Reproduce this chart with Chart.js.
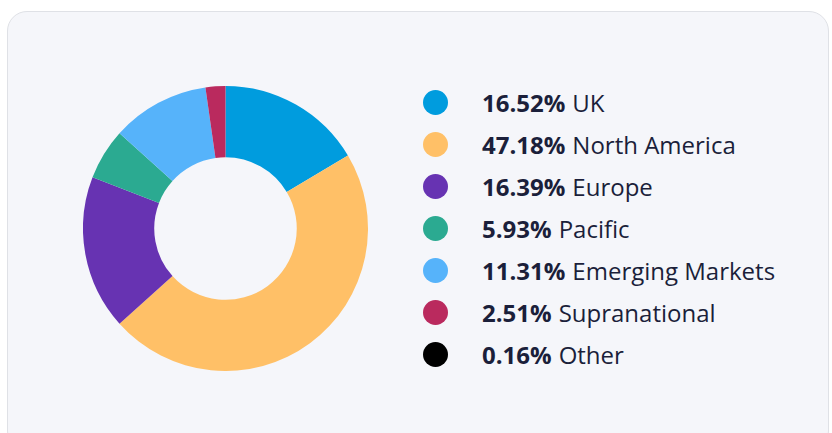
<!DOCTYPE html>
<html>
<head>
<meta charset="utf-8">
<script src="https://cdn.jsdelivr.net/npm/chart.js@4.4.1/dist/chart.umd.min.js"></script>
<style>
  html, body { margin: 0; padding: 0; background: #ffffff; width: 832px; height: 433px; overflow: hidden; }
  .card {
    position: absolute; left: 7px; top: 11px; width: 822px; height: 440px;
    background: #f5f6fa; border: 1px solid #dfe1e6; border-radius: 20px; box-sizing: border-box;
  }
  #chartBox { position: absolute; left: 83px; top: 86px; width: 285px; height: 285px; }
  #leyenda {
    position: absolute; left: 423px; top: 81px; margin: 0; padding: 0; list-style: none;
    font-family: "Open Sans", sans-serif; font-size: 24px; color: #1b1f3a;
  }
  #leyenda li { height: 42px; display: flex; align-items: center; white-space: nowrap; }
  #leyenda .dot { width: 25px; height: 25px; border-radius: 50%; margin-right: 34px; flex: none; }
  #leyenda b { font-weight: 700; margin-right: 7px; }
</style>
</head>
<body>
<div class="card"></div>
<div id="chartBox"><canvas id="graficoRegiones" width="285" height="285"></canvas></div>
<ul id="leyenda"></ul>
<script>
// Datos del gráfico
const regiones = ['UK', 'North America', 'Europe', 'Pacific', 'Emerging Markets', 'Supranational', 'Other'];
// porcentajes que muestra la leyenda
const porcentajes = [16.52, 47.18, 16.39, 5.93, 11.31, 2.51, 0.16];
// tamaño de cada porción tal como se ve dibujada en el anillo
const porciones = [16.45, 46.9, 17.5, 5.8, 11.1, 2.25, 0];
const colores = ['#009cde', '#ffc067', '#6733b2', '#2baa91', '#56b3fa', '#ba2a5e', '#000000'];

// Leyenda HTML (negrita + etiqueta)
const leyenda = document.getElementById('leyenda');
leyenda.innerHTML = regiones.map((r, i) => `
  <li><span class="dot" style="background:${colores[i]}"></span><b>${porcentajes[i].toFixed(2)}%</b>${r}</li>
`).join('');

new Chart(document.getElementById('graficoRegiones'), {
  type: 'doughnut',
  data: {
    labels: regiones,
    datasets: [{
      data: porciones,
      backgroundColor: colores,
      borderWidth: 0
    }]
  },
  options: {
    responsive: false,
    animation: false,
    devicePixelRatio: 1,
    cutout: '50%',
    layout: { padding: 0 },
    plugins: { legend: { display: false }, tooltip: { enabled: false } }
  }
});
</script>
</body>
</html>
